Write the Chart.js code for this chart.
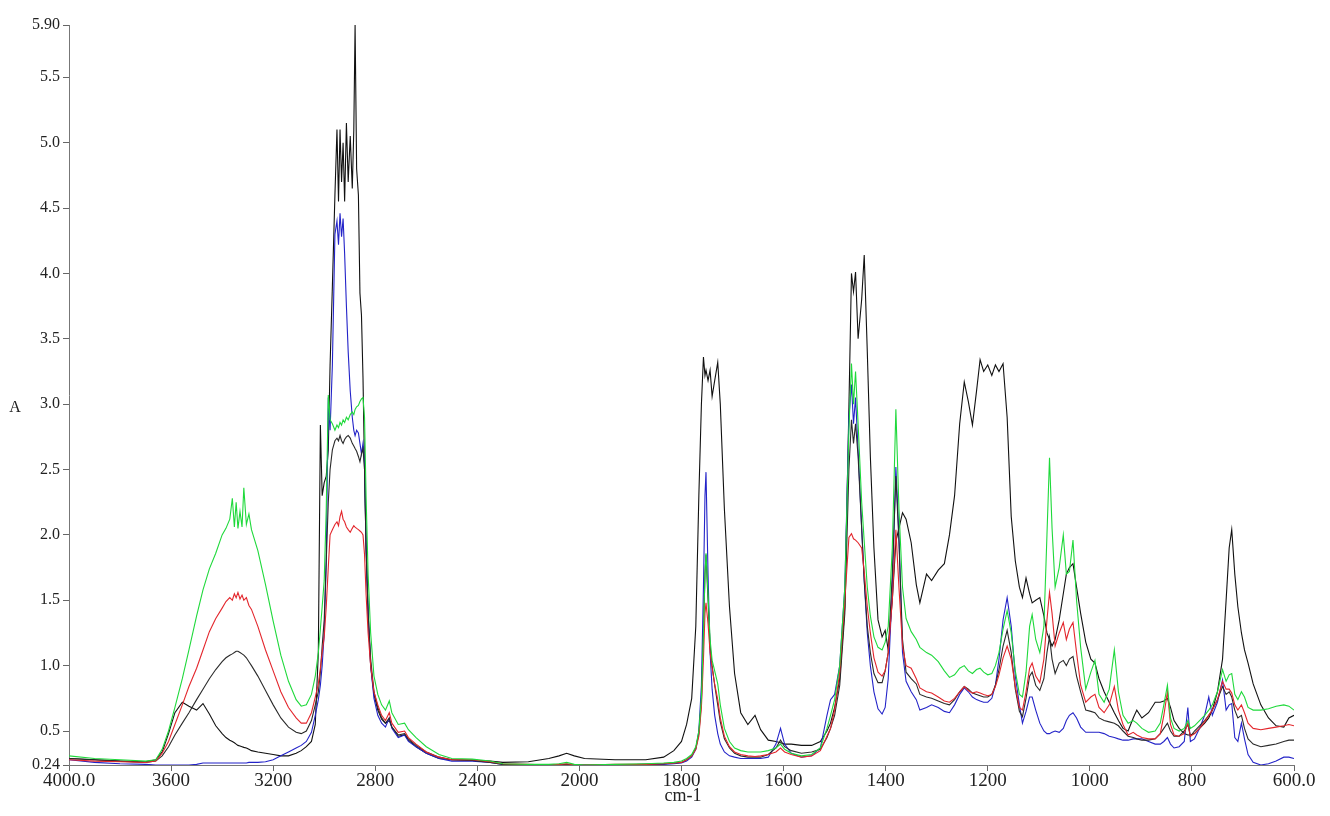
<!DOCTYPE html>
<html lang="en">
<head>
    <meta charset="UTF-8">
    <title>IR spectra</title>
    <script src="https://cdn.jsdelivr.net/npm/chart.js"></script>
    <style>
        body { margin: 0; background: #fff; }
        #wrap { width: 1330px; height: 816px; }
    </style>
</head>
<body>

<div id="wrap">
    <canvas id="myChart" width="1330" height="816"></canvas>
</div>

<script>
    // wavenumber grid shared by all five spectra (cm-1)
    const wavenumbers = [
        4000, 3900, 3800, 3700, 3660, 3635, 3610, 3585, 3556, 3530, 3500, 3475, 3450, 3425, 3400, 3385,
        3370, 3360, 3352, 3345, 3338, 3330, 3322, 3315, 3305, 3295, 3285, 3260, 3230, 3200, 3170, 3140,
        3110, 3090, 3070, 3050, 3035, 3023, 3015, 3008, 3000, 2992, 2984, 2977, 2968, 2958, 2950, 2944,
        2938, 2932, 2926, 2920, 2913, 2906, 2898, 2890, 2884, 2879, 2873, 2866, 2860, 2854, 2848, 2842,
        2836, 2828, 2818, 2805, 2790, 2775, 2760, 2745, 2735, 2710, 2685, 2670, 2640, 2600, 2550, 2500,
        2420, 2350, 2300, 2200, 2120, 2080, 2050, 2020, 1990, 1930, 1870, 1835, 1815, 1800, 1790, 1780,
        1772, 1766, 1761, 1757, 1754, 1752, 1748, 1744, 1740, 1735, 1729, 1724, 1716, 1706, 1696, 1684,
        1670, 1656, 1645, 1630, 1615, 1606, 1598, 1585, 1565, 1545, 1528, 1515, 1508, 1500, 1490, 1480,
        1472, 1467, 1463, 1459, 1454, 1447, 1442, 1436, 1430, 1423, 1415, 1407, 1401, 1395, 1387, 1380,
        1374, 1367, 1360, 1350, 1340, 1333, 1320, 1310, 1297, 1285, 1275, 1265, 1255, 1246, 1238, 1230,
        1222, 1215, 1208, 1200, 1192, 1185, 1178, 1170, 1162, 1154, 1146, 1138, 1132, 1125, 1118, 1113,
        1106, 1098, 1090, 1084, 1079, 1074, 1068, 1060, 1052, 1046, 1040, 1033, 1026, 1018, 1008, 998,
        990, 982, 972, 962, 952, 944, 935, 925, 915, 908, 898, 885, 872, 862, 855, 848,
        842, 835, 825, 815, 808, 803, 795, 785, 775, 767, 760, 750, 740, 733, 727, 722,
        716, 710, 703, 697, 690, 680, 665, 650, 635, 620, 610, 600
    ];

    const greenAbs = [
        0.31, 0.29, 0.28, 0.27, 0.28, 0.36, 0.50, 0.68, 0.90, 1.12, 1.38, 1.58, 1.74, 1.86, 2.00, 2.05,
        2.12, 2.28, 2.06, 2.25, 2.05, 2.18, 2.06, 2.36, 2.08, 2.16, 2.04, 1.88, 1.62, 1.34, 1.08, 0.88,
        0.74, 0.69, 0.70, 0.78, 0.92, 1.10, 1.28, 1.45, 1.65, 2.20, 3.07, 2.88, 2.85, 2.80, 2.84, 2.82,
        2.86, 2.84, 2.88, 2.86, 2.90, 2.88, 2.92, 2.94, 2.92, 2.96, 2.98, 2.99, 3.02, 3.04, 3.05, 2.90,
        2.30, 1.70, 1.25, 0.92, 0.78, 0.70, 0.66, 0.73, 0.64, 0.55, 0.56, 0.51, 0.45, 0.38, 0.32, 0.29,
        0.285, 0.27, 0.25, 0.245, 0.245, 0.25, 0.26, 0.245, 0.24, 0.245, 0.25, 0.255, 0.26, 0.27, 0.29, 0.32,
        0.38, 0.50, 0.75, 1.25, 1.70, 1.86, 1.55, 1.20, 1.04, 0.96, 0.86, 0.70, 0.52, 0.42, 0.37, 0.35,
        0.34, 0.34, 0.34, 0.35, 0.37, 0.40, 0.36, 0.33, 0.31, 0.32, 0.37, 0.52, 0.62, 0.74, 1.00, 1.60,
        2.80, 3.31, 3.00, 3.25, 2.85, 2.25, 1.95, 1.60, 1.38, 1.22, 1.14, 1.12, 1.18, 1.30, 1.90, 2.96,
        2.20, 1.60, 1.36, 1.26, 1.20, 1.14, 1.10, 1.08, 1.03, 0.96, 0.91, 0.93, 0.98, 1.00, 0.96, 0.94,
        0.97, 0.98, 0.95, 0.93, 0.94, 1.00, 1.10, 1.28, 1.42, 1.25, 0.96, 0.78, 0.76, 0.95, 1.30, 1.39,
        1.20, 1.10, 1.30, 2.00, 2.59, 2.05, 1.60, 1.75, 2.00, 1.70, 1.72, 1.96, 1.50, 1.14, 0.82, 0.95,
        1.04, 0.78, 0.72, 0.82, 1.12, 0.80, 0.62, 0.56, 0.58, 0.56, 0.52, 0.49, 0.50, 0.56, 0.70, 0.85,
        0.60, 0.52, 0.50, 0.52, 0.58, 0.52, 0.54, 0.58, 0.62, 0.66, 0.70, 0.80, 0.97, 0.88, 0.93, 0.94,
        0.78, 0.74, 0.80, 0.76, 0.68, 0.66, 0.66, 0.67, 0.69, 0.70, 0.69, 0.66
    ];

    const redAbs = [
        0.28, 0.27, 0.265, 0.26, 0.27, 0.33, 0.42, 0.55, 0.70, 0.84, 0.98, 1.12, 1.26, 1.36, 1.44, 1.49,
        1.52, 1.50, 1.55, 1.52, 1.56, 1.51, 1.54, 1.50, 1.52, 1.46, 1.43, 1.30, 1.12, 0.96, 0.80, 0.68,
        0.60, 0.56, 0.56, 0.64, 0.76, 0.86, 0.98, 1.10, 1.22, 1.45, 1.75, 2.00, 2.04, 2.08, 2.10, 2.07,
        2.14, 2.18, 2.12, 2.10, 2.06, 2.04, 2.02, 2.05, 2.07, 2.06, 2.05, 2.04, 2.03, 2.02, 2.00, 1.85,
        1.55, 1.25, 1.00, 0.80, 0.70, 0.62, 0.58, 0.64, 0.56, 0.49, 0.50, 0.45, 0.40, 0.34, 0.30, 0.28,
        0.28, 0.265, 0.25, 0.245, 0.24, 0.245, 0.25, 0.24, 0.24, 0.245, 0.245, 0.25, 0.255, 0.26, 0.28, 0.31,
        0.36, 0.46, 0.68, 1.05, 1.40, 1.48, 1.32, 1.10, 0.98, 0.86, 0.74, 0.60, 0.46, 0.38, 0.34, 0.32,
        0.31, 0.305, 0.31, 0.32, 0.34, 0.37, 0.34, 0.32, 0.30, 0.31, 0.35, 0.46, 0.52, 0.66, 0.95, 1.50,
        1.98, 2.01, 1.97, 1.96, 1.94, 1.90, 1.72, 1.45, 1.25, 1.06, 0.95, 0.92, 0.96, 1.10, 1.50, 2.04,
        1.60, 1.15, 1.00, 0.98, 0.90, 0.83, 0.80, 0.79, 0.76, 0.73, 0.72, 0.75, 0.80, 0.84, 0.81, 0.79,
        0.80, 0.79, 0.78, 0.77, 0.78, 0.84, 0.93, 1.06, 1.15, 1.05, 0.84, 0.68, 0.66, 0.80, 0.98, 1.02,
        0.92, 0.87, 1.05, 1.35, 1.56, 1.40, 1.15, 1.25, 1.33, 1.20, 1.28, 1.33, 1.10, 0.85, 0.72, 0.76,
        0.78, 0.68, 0.64, 0.70, 0.84, 0.66, 0.55, 0.47, 0.49, 0.47, 0.45, 0.44, 0.44, 0.48, 0.62, 0.80,
        0.55, 0.47, 0.46, 0.48, 0.56, 0.46, 0.48, 0.52, 0.57, 0.62, 0.66, 0.74, 0.88, 0.82, 0.82, 0.79,
        0.70, 0.66, 0.70, 0.64, 0.56, 0.52, 0.51, 0.52, 0.53, 0.54, 0.55, 0.54
    ];

    // black trace with the broad 3330 band
    const blackAbs = [
        0.29, 0.28, 0.27, 0.26, 0.27, 0.31, 0.38, 0.47, 0.56, 0.64, 0.74, 0.82, 0.90, 0.97, 1.03, 1.06,
        1.08, 1.09, 1.10, 1.11, 1.11, 1.10, 1.09, 1.08, 1.06, 1.03, 1.00, 0.92, 0.81, 0.70, 0.60, 0.53,
        0.49, 0.48, 0.50, 0.58, 0.70, 0.80, 0.95, 1.15, 1.35, 1.80, 2.25, 2.50, 2.65, 2.72, 2.74, 2.72,
        2.76, 2.72, 2.70, 2.73, 2.75, 2.76, 2.74, 2.70, 2.68, 2.66, 2.64, 2.60, 2.56, 2.62, 2.66, 2.50,
        1.90, 1.40, 1.05, 0.80, 0.68, 0.60, 0.56, 0.60, 0.53, 0.47, 0.48, 0.44, 0.39, 0.34, 0.30, 0.28,
        0.275, 0.26, 0.245, 0.24, 0.24, 0.24, 0.245, 0.24, 0.24, 0.24, 0.245, 0.25, 0.255, 0.26, 0.28, 0.31,
        0.37, 0.48, 0.72, 1.25, 1.70, 1.85, 1.50, 1.15, 1.00, 0.85, 0.70, 0.57, 0.44, 0.37, 0.33, 0.31,
        0.30, 0.30, 0.30, 0.32, 0.37, 0.43, 0.38, 0.35, 0.33, 0.34, 0.36, 0.45, 0.52, 0.62, 0.85, 1.40,
        2.50, 2.88, 2.70, 2.85, 2.60, 2.05, 1.65, 1.30, 1.10, 0.94, 0.87, 0.87, 0.96, 1.10, 1.70, 2.45,
        1.95, 1.20, 0.95, 0.90, 0.86, 0.78, 0.76, 0.75, 0.73, 0.71, 0.70, 0.74, 0.80, 0.84, 0.82, 0.79,
        0.78, 0.77, 0.76, 0.76, 0.78, 0.85, 0.97, 1.15, 1.27, 1.10, 0.82, 0.65, 0.61, 0.75, 0.92, 0.95,
        0.85, 0.81, 0.90, 1.10, 1.22, 1.05, 0.94, 1.02, 1.04, 1.00, 1.05, 1.07, 0.92, 0.80, 0.66, 0.65,
        0.64, 0.60, 0.58, 0.57, 0.56, 0.54, 0.50, 0.46, 0.45, 0.44, 0.43, 0.43, 0.44, 0.48, 0.52, 0.56,
        0.50, 0.46, 0.46, 0.50, 0.55, 0.46, 0.50, 0.54, 0.58, 0.62, 0.66, 0.74, 0.84, 0.78, 0.80, 0.76,
        0.66, 0.60, 0.62, 0.52, 0.44, 0.40, 0.38, 0.39, 0.40, 0.42, 0.43, 0.43
    ];

    const blueAbs = [
        0.28, 0.26, 0.25, 0.245, 0.24, 0.24, 0.24, 0.24, 0.24, 0.24, 0.245, 0.255, 0.255, 0.255, 0.255, 0.255,
        0.255, 0.255, 0.255, 0.255, 0.255, 0.255, 0.255, 0.255, 0.255, 0.26, 0.26, 0.26, 0.265, 0.28, 0.31, 0.34,
        0.37, 0.39, 0.42, 0.49, 0.62, 0.74, 0.85, 1.00, 1.25, 1.80, 3.05, 2.80, 3.30, 4.30, 4.40, 4.22,
        4.46, 4.28, 4.42, 4.15, 3.75, 3.40, 3.10, 2.90, 2.80, 2.76, 2.80, 2.78, 2.70, 2.62, 2.70, 2.55,
        1.95, 1.40, 1.00, 0.75, 0.62, 0.56, 0.53, 0.60, 0.52, 0.45, 0.47, 0.42, 0.38, 0.33, 0.29, 0.27,
        0.27, 0.26, 0.245, 0.24, 0.24, 0.24, 0.24, 0.24, 0.24, 0.24, 0.245, 0.245, 0.25, 0.255, 0.27, 0.30,
        0.36, 0.50, 0.85, 1.60, 2.30, 2.48, 1.70, 1.10, 0.82, 0.62, 0.48, 0.40, 0.34, 0.31, 0.30, 0.29,
        0.29, 0.29, 0.29, 0.30, 0.40, 0.52, 0.40, 0.33, 0.30, 0.31, 0.37, 0.62, 0.74, 0.78, 1.00, 1.60,
        2.90, 3.15, 2.85, 3.05, 2.65, 2.05, 1.65, 1.25, 1.00, 0.80, 0.67, 0.63, 0.68, 0.90, 1.60, 2.52,
        2.00, 1.10, 0.88, 0.80, 0.74, 0.66, 0.68, 0.70, 0.68, 0.65, 0.64, 0.70, 0.78, 0.83, 0.80, 0.76,
        0.74, 0.73, 0.72, 0.72, 0.75, 0.85, 1.05, 1.35, 1.52, 1.30, 0.92, 0.70, 0.56, 0.65, 0.76, 0.76,
        0.66, 0.56, 0.50, 0.48, 0.48, 0.49, 0.50, 0.49, 0.52, 0.58, 0.62, 0.64, 0.60, 0.53, 0.49, 0.49,
        0.49, 0.49, 0.48, 0.46, 0.45, 0.44, 0.43, 0.43, 0.44, 0.44, 0.44, 0.42, 0.40, 0.40, 0.42, 0.45,
        0.40, 0.37, 0.38, 0.42, 0.68, 0.42, 0.44, 0.52, 0.62, 0.76, 0.62, 0.72, 0.89, 0.66, 0.70, 0.71,
        0.45, 0.42, 0.56, 0.44, 0.32, 0.26, 0.24, 0.25, 0.27, 0.30, 0.30, 0.29
    ];

    // black trace with the strong carbonyl doublet and 1200 band
    const darkAbs = [
        0.29, 0.28, 0.27, 0.265, 0.28, 0.34, 0.48, 0.64, 0.72, 0.69, 0.66, 0.71, 0.63, 0.54, 0.48, 0.45,
        0.43, 0.42, 0.41, 0.40, 0.39, 0.385, 0.38, 0.375, 0.37, 0.36, 0.35, 0.34, 0.33, 0.32, 0.31, 0.31,
        0.33, 0.35, 0.38, 0.42, 0.55, 1.10, 2.84, 2.30, 2.40, 2.45, 2.65, 3.30, 3.90, 4.60, 5.10, 4.55,
        5.10, 4.70, 5.00, 4.55, 5.15, 4.70, 5.05, 4.65, 5.10, 5.90, 4.80, 4.60, 3.85, 3.68, 3.20, 2.50,
        1.90, 1.40, 1.00, 0.78, 0.66, 0.59, 0.56, 0.58, 0.53, 0.46, 0.47, 0.43, 0.38, 0.33, 0.29, 0.28,
        0.275, 0.27, 0.26, 0.265, 0.29, 0.31, 0.33, 0.31, 0.29, 0.28, 0.28, 0.30, 0.35, 0.42, 0.55, 0.75,
        1.30, 2.30, 3.00, 3.36, 3.22, 3.26, 3.18, 3.26, 3.06, 3.18, 3.32, 3.00, 2.20, 1.45, 0.94, 0.64,
        0.55, 0.62, 0.51, 0.43, 0.42, 0.41, 0.40, 0.40, 0.39, 0.39, 0.42, 0.50, 0.56, 0.68, 0.90, 1.45,
        2.98, 4.00, 3.86, 4.01, 3.50, 3.80, 4.14, 3.40, 2.60, 1.90, 1.35, 1.22, 1.27, 1.12, 1.50, 1.95,
        2.05, 2.17, 2.12, 1.94, 1.62, 1.48, 1.70, 1.65, 1.73, 1.78, 2.00, 2.30, 2.85, 3.17, 3.02, 2.84,
        3.10, 3.34, 3.25, 3.30, 3.22, 3.30, 3.25, 3.31, 2.90, 2.14, 1.80, 1.60, 1.52, 1.67, 1.55, 1.48,
        1.50, 1.52, 1.38, 1.25, 1.20, 1.15, 1.20, 1.35, 1.55, 1.70, 1.75, 1.78, 1.60, 1.40, 1.18, 1.05,
        1.02, 0.90, 0.80, 0.72, 0.64, 0.58, 0.52, 0.50, 0.60, 0.66, 0.60, 0.64, 0.72, 0.72, 0.73, 0.75,
        0.68, 0.58, 0.52, 0.48, 0.47, 0.47, 0.48, 0.52, 0.56, 0.60, 0.66, 0.80, 1.05, 1.50, 1.90, 2.04,
        1.70, 1.45, 1.25, 1.12, 1.02, 0.86, 0.70, 0.60, 0.54, 0.53, 0.60, 0.62
    ];

    // axis
    const maxWave = 4000;
    const breakWave = 2000;
    const minWave = 600;
    const xTicks = [4000, 3600, 3200, 2800, 2400, 2000, 1800, 1600, 1400, 1200, 1000, 800, 600];
    const xTickLabels = ['4000.0', '3600', '3200', '2800', '2400', '2000', '1800', '1600', '1400', '1200', '1000', '800', '600.0'];
    const yTicks = [0.24, 0.5, 1.0, 1.5, 2.0, 2.5, 3.0, 3.5, 4.0, 4.5, 5.0, 5.5, 5.9];
    const yTickLabels = ['0.24', '0.5', '1.0', '1.5', '2.0', '2.5', '3.0', '3.5', '4.0', '4.5', '5.0', '5.5', '5.90'];

    // the spectrometer axis is compressed above 2000 cm-1 (400 per division, 200 below)
    function waveToDecimal(v) {
        let upper = 5 / 12;
        if (v >= breakWave) {
            return (maxWave - v) / (maxWave - breakWave) * upper;
        }
        return upper + (breakWave - v) / (breakWave - minWave) * (1 - upper);
    }

    function decimalToWave(d) {
        let upper = 5 / 12;
        if (d <= upper) {
            return maxWave - d / upper * (maxWave - breakWave);
        }
        return breakWave - (d - upper) / (1 - upper) * (breakWave - minWave);
    }

    class WaveScale extends Chart.LinearScale {
        getPixelForValue(value) {
            return this.getPixelForDecimal(waveToDecimal(value));
        }

        getValueForPixel(pixel) {
            return decimalToWave(this.getDecimalForPixel(pixel));
        }
    }
    WaveScale.id = 'wave';
    WaveScale.defaults = Chart.LinearScale.defaults;
    Chart.register(WaveScale);

    function series(values) {
        return wavenumbers.map((w, i) => ({x: w, y: values[i]}));
    }

    const axisTitles = {
        id: 'axisTitles',
        afterDraw(chart) {
            let ctx = chart.ctx;
            ctx.save();
            ctx.fillStyle = '#222';
            ctx.textAlign = 'center';
            ctx.textBaseline = 'middle';
            ctx.font = '16px "Liberation Serif"';
            ctx.fillText('A', 15, 408);
            ctx.font = '18px "Liberation Serif"';
            ctx.fillText('cm-1', 683, 796);
            ctx.restore();
        }
    };

    function init() {
        let ctx = document.getElementById("myChart").getContext('2d');
        new Chart(ctx, {
            type: 'line',
            data: {
                datasets: [
                    {label: 'green', data: series(greenAbs), borderColor: "#1fd93b"},
                    {label: 'red', data: series(redAbs), borderColor: "#e3262c"},
                    {label: 'black', data: series(blackAbs), borderColor: "#2a2a2a"},
                    {label: 'blue', data: series(blueAbs), borderColor: "#2323c8"},
                    {label: 'dark', data: series(darkAbs), borderColor: "#111111"},
                ],
            },
            options: {
                responsive: false,
                animation: false,
                devicePixelRatio: 1,
                layout: {
                    padding: {top: 25, right: 36, bottom: 0, left: 0}
                },
                elements: {
                    point: {radius: 0},
                    line: {
                        tension: 0,
                        borderWidth: 1.1,
                        fill: false
                    }
                },
                plugins: {
                    legend: {display: false},
                    tooltip: {enabled: false}
                },
                scales: {
                    x: {
                        type: 'wave',
                        min: minWave,
                        max: maxWave,
                        afterFit: s => { s.height = 51; },
                        afterBuildTicks: s => { s.ticks = xTicks.map(v => ({value: v})); },
                        grid: {drawOnChartArea: false, drawTicks: true, tickLength: 6, color: '#666'},
                        border: {display: true, color: '#777', width: 1},
                        ticks: {
                            autoSkip: false,
                            maxRotation: 0,
                            padding: -1,
                            color: '#222',
                            font: {family: 'Liberation Serif', size: 19},
                            callback: (value, index) => xTickLabels[index]
                        }
                    },
                    y: {
                        type: 'linear',
                        min: 0.24,
                        max: 5.9,
                        afterFit: s => { s.width = 69; },
                        afterBuildTicks: s => { s.ticks = yTicks.map(v => ({value: v})); },
                        grid: {drawOnChartArea: false, drawTicks: true, tickLength: 6, color: '#666'},
                        border: {display: true, color: '#777', width: 1},
                        ticks: {
                            autoSkip: false,
                            padding: 3,
                            color: '#222',
                            font: {family: 'Liberation Serif', size: 16},
                            callback: (value, index) => yTickLabels[index]
                        }
                    }
                }
            },
            plugins: [axisTitles]
        });
    }

    document.addEventListener('DOMContentLoaded', init);
</script>

</body>
</html>
